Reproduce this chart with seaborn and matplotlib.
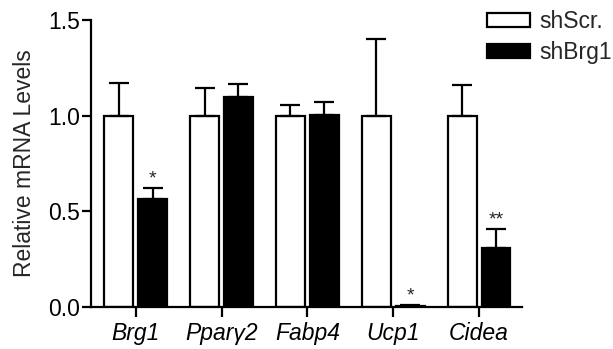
import matplotlib
matplotlib.use("Agg")
import matplotlib.pyplot as plt
from matplotlib.patches import Patch
import numpy as np
import pandas as pd
import seaborn as sns

# Relative mRNA expression (mean and upper SEM) per gene
genes = ["Brg1", "Pparγ2", "Fabp4", "Ucp1", "Cidea"]
groups = ["shScr.", "shBrg1"]
scr_mean = [1.0, 1.0, 1.0, 1.0, 1.0]
scr_err = [0.17, 0.145, 0.055, 0.40, 0.158]
brg_mean = [0.565, 1.095, 1.005, 0.006, 0.308]
brg_err = [0.055, 0.07, 0.068, 0.003, 0.10]
brg_sig = ["*", "", "", "*", "**"]

sns.set_theme(style="ticks")
plt.rcParams["font.family"] = ["Liberation Sans", "DejaVu Sans"]

df = pd.DataFrame({
    "gene": genes * 2,
    "group": [groups[0]] * len(genes) + [groups[1]] * len(genes),
    "value": scr_mean + brg_mean,
})

fig = plt.figure(figsize=(6.13, 3.49), dpi=100)
ax = fig.add_axes([0.1485, 0.1203, 0.703, 0.8224])

sns.barplot(data=df, x="gene", y="value", hue="group", order=genes,
            hue_order=groups, palette=["white", "black"], edgecolor="black",
            linewidth=1.6, width=0.79, gap=0.15, errorbar=None, legend=False,
            ax=ax)

means = [scr_mean, brg_mean]
errs = [scr_err, brg_err]
for cont, m, e in zip(ax.containers, means, errs):
    xs = [b.get_x() + b.get_width() / 2 for b in cont]
    ax.errorbar(xs, m, yerr=[np.zeros(len(m)), e], fmt="none", ecolor="black",
                elinewidth=1.6, capsize=7, capthick=1.6, zorder=1)

# significance marks above the shBrg1 bars
for b, m, e, s in zip(ax.containers[1], brg_mean, brg_err, brg_sig):
    if s:
        ax.annotate(s, (b.get_x() + b.get_width() / 2, m + e),
                    xytext=(0, 0.5), textcoords="offset points",
                    ha="center", va="bottom", fontsize=14)

ax.set_xlim(-0.52, 4.5)
ax.set_ylim(0, 1.5)
ax.set_yticks([0, 0.5, 1.0, 1.5])
ax.set_yticklabels(["0.0", "0.5", "1.0", "1.5"])
ax.set_xlabel("")
ax.set_ylabel("Relative mRNA Levels", fontsize=16.5, labelpad=9)
ax.tick_params(axis="y", labelsize=16.5, length=6.5, width=1.6, pad=1.5,
               color="black", labelcolor="black")
ax.tick_params(axis="x", labelsize=16.5, length=7, width=1.6, pad=4,
               color="black", labelcolor="black")
for lab in ax.get_xticklabels():
    lab.set_fontstyle("italic")

sns.despine(ax=ax)
for sp in ("left", "bottom"):
    ax.spines[sp].set_linewidth(1.6)
    ax.spines[sp].set_color("black")

handles = [Patch(facecolor="white", edgecolor="black", linewidth=1.6),
           Patch(facecolor="black", edgecolor="black", linewidth=1.6)]
fig.legend(handles, groups, loc="upper left", bbox_to_anchor=(0.794, 0.97),
           frameon=False, fontsize=16.5, borderpad=0, borderaxespad=0,
           handlelength=1.9, handleheight=0.55, handletextpad=0.4,
           labelspacing=0.35)

fig.savefig("out.png", dpi=100)
